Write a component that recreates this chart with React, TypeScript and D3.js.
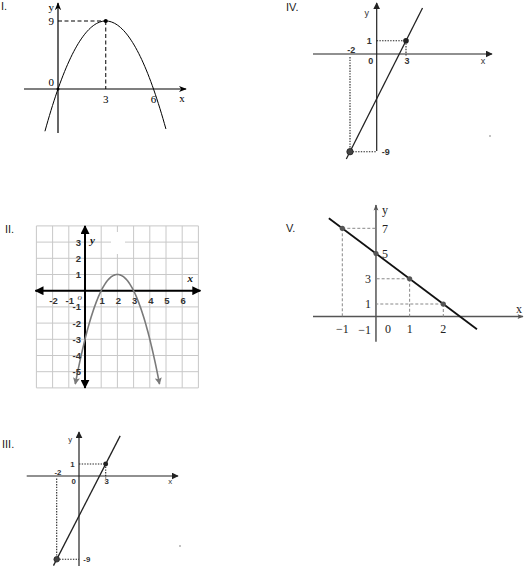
import React from 'react';
import * as d3 from 'd3';

const W = 525, H = 568;

// ---------- Panel I : y = -x^2 + 6x ----------
const quadI = [-1, 6, 0];
const xDomainI = [-0.82, 6.78];
const vertexI = [3, 9];
const xTicksI = [3, 6];
const yTicksI = [9];

// ---------- Panel II : y = -x^2 + 4x - 3 ----------
const quadII = [-1, 4, -3];
const xDomainII = [-0.6, 4.6];
const gridXII = [-3, -2, -1, 0, 1, 2, 3, 4, 5, 6, 7];
const gridYII = [-6, -5, -4, -3, -2, -1, 0, 1, 2, 3, 4];
const xTicksII = [-2, -1, 1, 2, 3, 4, 5, 6];
const yTicksII = [3, 2, 1, -1, -2, -3, -4, -5];

// ---------- Panels III & IV : line through (-2,-9) and (3,1) ----------
const pointsLin = [[-2, -9], [3, 1]];
const xTicksLin = [-2, 3];
const yTicksLin = [1, -9];

// ---------- Panel V : y = -2x + 5 ----------
const lineV = [-2, 5];
const xDomainV = [-1.4, 3.0];
const pointsV = [[-1, 7], [0, 5], [1, 3], [2, 1]];
const xTicksV = [-1, 1, 2];
const yTicksV = [7, 5, 3, 1, -1];

const sampleQuad = (q: number[], dom: number[], n = 80) =>
  d3.range(n + 1).map((i) => {
    const x = dom[0] + ((dom[1] - dom[0]) * i) / n;
    return [x, q[0] * x * x + q[1] * x + q[2]];
  });

const SERIF = '"Liberation Serif", "Times New Roman", serif';
const SANS = '"Liberation Sans", Arial, sans-serif';

function PanelI() {
  const x = d3.scaleLinear().domain([0, 6]).range([58, 153.5]);
  const y = d3.scaleLinear().domain([0, 9]).range([89, 21]);
  const line = d3.line<number[]>().x((d) => x(d[0])).y((d) => y(d[1]));
  const pts = sampleQuad(quadI, xDomainI);
  return (
    <g>
      <text x={1} y={10} fontFamily={SANS} fontSize={11} fill="#1a1a1a">I.</text>
      <line x1={24} x2={186} y1={y(0)} y2={y(0)} stroke="#000" strokeWidth={1.2} markerEnd="url(#arrI)" />
      <line x1={x(0)} x2={x(0)} y1={133} y2={3} stroke="#000" strokeWidth={1.2} markerEnd="url(#arrI)" />
      <path d={line(pts) || ''} fill="none" stroke="#000" strokeWidth={1} />
      <line x1={x(0)} x2={x(vertexI[0])} y1={y(vertexI[1])} y2={y(vertexI[1])} stroke="#000" strokeWidth={1} strokeDasharray="4,2.5" />
      <line x1={x(vertexI[0])} x2={x(vertexI[0])} y1={y(vertexI[1])} y2={y(0)} stroke="#000" strokeWidth={1} strokeDasharray="4,2.5" />
      <circle cx={x(vertexI[0])} cy={y(vertexI[1])} r={2} fill="#000" />
      <circle cx={x(0)} cy={y(0)} r={1.5} fill="#000" />
      {xTicksI.map((t) => (
        <text key={t} x={x(t)} y={y(0) + 14} textAnchor="middle" fontFamily={SERIF} fontSize={11}>{t}</text>
      ))}
      {yTicksI.map((t) => (
        <text key={t} x={x(0) - 4} y={y(t) + 4} textAnchor="end" fontFamily={SERIF} fontSize={11}>{t}</text>
      ))}
      <text x={x(0) - 4} y={y(0) - 3} textAnchor="end" fontFamily={SERIF} fontSize={11}>0</text>
      <text x={x(0) - 4} y={11} textAnchor="end" fontFamily={SERIF} fontSize={11}>y</text>
      <text x={182} y={y(0) + 13} textAnchor="middle" fontFamily={SERIF} fontSize={11}>x</text>
    </g>
  );
}

function PanelII() {
  const x = d3.scaleLinear().domain([-3, 7]).range([36.4, 198.4]);
  const y = d3.scaleLinear().domain([-6, 4]).range([387.9, 225.9]);
  const line = d3.line<number[]>().x((d) => x(d[0])).y((d) => y(d[1]));
  const pts = sampleQuad(quadII, xDomainII);
  return (
    <g>
      <text x={5} y={233} fontFamily={SANS} fontSize={11} fill="#1a1a1a">II.</text>
      {gridXII.map((g) => (
        <line key={'gx' + g} x1={x(g)} x2={x(g)} y1={y(4)} y2={y(-6)} stroke="#c8c8c8" strokeWidth={1} />
      ))}
      {gridYII.map((g) => (
        <line key={'gy' + g} x1={x(-3)} x2={x(7)} y1={y(g)} y2={y(g)} stroke="#c8c8c8" strokeWidth={1} />
      ))}
      <rect x={111} y={232} width={14} height={22} fill="#fff" />
      <line x1={x(-3) - 1} x2={x(7) + 2} y1={y(0)} y2={y(0)} stroke="#000" strokeWidth={2} markerStart="url(#arrII)" markerEnd="url(#arrII)" />
      <line x1={x(0)} x2={x(0)} y1={y(-6)} y2={y(4)} stroke="#000" strokeWidth={2} markerStart="url(#arrII)" markerEnd="url(#arrII)" />
      <path d={line(pts) || ''} fill="none" stroke="#7a7a7a" strokeWidth={1.6} markerStart="url(#arrGray)" markerEnd="url(#arrGray)" />
      {xTicksII.map((t) => (
        <text key={'tx' + t} x={x(t) + 1} y={y(0) + 13} textAnchor="middle" fontFamily={SANS} fontSize={9.5} fontWeight={600} fill="#333">{t}</text>
      ))}
      {yTicksII.map((t) => (
        <text key={'ty' + t} x={x(0) - 4} y={y(t) + 3.5} textAnchor="end" fontFamily={SANS} fontSize={9.5} fontWeight={600} fill="#333">{t}</text>
      ))}
      <text x={x(0) - 3} y={y(0) + 9} textAnchor="end" fontFamily={SERIF} fontStyle="italic" fontSize={9} fill="#333">o</text>
      <text x={x(0) + 5} y={y(3) + 2} fontFamily={SERIF} fontStyle="italic" fontWeight="bold" fontSize={11} fill="#111">y</text>
      <text x={x(6.5)} y={y(0) - 9} textAnchor="middle" fontFamily={SERIF} fontStyle="italic" fontWeight="bold" fontSize={11} fill="#111">x</text>
    </g>
  );
}

function LinPanel({ xr, yr, axX, axY, k, label, labelPos, speck }: any) {
  const x = d3.scaleLinear().domain([-2, 0, 3]).range(xr);
  const y = d3.scaleLinear().domain([-9, 0, 1]).range(yr);
  const p1 = [x(pointsLin[0][0]), y(pointsLin[0][1])];
  const p2 = [x(pointsLin[1][0]), y(pointsLin[1][1])];
  const at = (t: number) => [p1[0] + t * (p2[0] - p1[0]), p1[1] + t * (p2[1] - p1[1])];
  const a = at(-0.066), b = at(1.295);
  const fs = 9 * k;
  const x0 = x(0), y0 = y(0);
  const dot = { stroke: '#222', strokeWidth: 1.1, strokeDasharray: '1.4,1.3' };
  return (
    <g>
      <text x={labelPos[0]} y={labelPos[1]} fontFamily={SANS} fontSize={11} fill="#1a1a1a">{label}</text>
      <line x1={axX[0]} x2={axX[1]} y1={y0} y2={y0} stroke="#222" strokeWidth={1.2} markerEnd="url(#arrLin)" />
      <line x1={x0} x2={x0} y1={axY[0]} y2={axY[1]} stroke="#222" strokeWidth={1.2} markerEnd="url(#arrLin)" />
      <line x1={x0} x2={p2[0]} y1={p2[1]} y2={p2[1]} {...dot} />
      <line x1={p2[0]} x2={p2[0]} y1={p2[1]} y2={y0 + 3 * k} {...dot} />
      <line x1={p1[0]} x2={x0} y1={p1[1]} y2={p1[1]} {...dot} />
      <line x1={p1[0]} x2={p1[0]} y1={y0 + 3 * k} y2={p1[1]} {...dot} />
      <line x1={a[0]} y1={a[1]} x2={b[0]} y2={b[1]} stroke="#222" strokeWidth={1.3} />
      <circle cx={p1[0]} cy={p1[1]} r={3.2 * k} fill="#444" stroke="#222" strokeWidth={0.8} />
      <circle cx={p2[0]} cy={p2[1]} r={2.8 * k} fill="#222" />
      <text x={x0 - 10 * k} y={y(1) - 25 * k} textAnchor="middle" fontFamily={SANS} fontSize={fs} fill="#333">y</text>
      <text x={x0 - 5 * k} y={y(yTicksLin[0]) + 3.3 * k} textAnchor="end" fontFamily={SANS} fontSize={fs} fontWeight={600} fill="#333">{yTicksLin[0]}</text>
      <text x={x0 + 5 * k} y={y(yTicksLin[1]) + 3.3 * k} textAnchor="start" fontFamily={SANS} fontSize={fs} fontWeight={600} fill="#333">{'-' + Math.abs(yTicksLin[1])}</text>
      <text x={x(xTicksLin[0]) + 1.3} y={y0 - 1.5 * k} textAnchor="middle" fontFamily={SANS} fontSize={fs} fontWeight={600} fill="#333">{'-' + Math.abs(xTicksLin[0])}</text>
      <text x={x(xTicksLin[1]) + 1} y={y0 + 9.5 * k} textAnchor="middle" fontFamily={SANS} fontSize={fs} fontWeight={600} fill="#333">{xTicksLin[1]}</text>
      <text x={x0 - 6 * k} y={y0 + 9.5 * k} textAnchor="middle" fontFamily={SANS} fontSize={fs} fontWeight={600} fill="#333">0</text>
      <text x={axX[1] - 9 * k} y={y0 + 9.5 * k} textAnchor="middle" fontFamily={SANS} fontSize={fs} fill="#333">x</text>
      <circle cx={speck[0]} cy={speck[1]} r={0.8} fill="#777" />
    </g>
  );
}

function PanelV() {
  const x = d3.scaleLinear().domain([-1, 2]).range([342.3, 443.3]);
  const y = d3.scaleLinear().domain([1, 7]).range([304, 228.3]);
  const x0 = x(0), y0 = y(0);
  const lineGen = d3.line<number[]>().x((d) => x(d[0])).y((d) => y(d[1]));
  const segs = xDomainV.map((v) => [v, lineV[0] * v + lineV[1]]);
  const fs = 12;
  const gray = '#555';
  return (
    <g>
      <text x={286} y={232} fontFamily={SANS} fontSize={11} fill="#1a1a1a">V.</text>
      <line x1={313} x2={523} y1={y0} y2={y0} stroke={gray} strokeWidth={1.5} markerEnd="url(#arrV)" />
      <line x1={x0} x2={x0} y1={341.7} y2={205} stroke={gray} strokeWidth={1.5} markerEnd="url(#arrV)" />
      {pointsV.filter((p) => p[0] !== 0).map((p, i) => (
        <g key={'d' + i}>
          <line x1={x(p[0])} x2={x0} y1={y(p[1])} y2={y(p[1])} stroke="#888" strokeWidth={1} strokeDasharray="3,2" />
          <line x1={x(p[0])} x2={x(p[0])} y1={y(p[1])} y2={y0} stroke="#888" strokeWidth={1} strokeDasharray="3,2" />
        </g>
      ))}
      <path d={lineGen(segs) || ''} stroke="#111" strokeWidth={1.8} fill="none" />
      {pointsV.map((p, i) => (
        <circle key={'p' + i} cx={x(p[0])} cy={y(p[1])} r={2.6} fill="#555" />
      ))}
      {xTicksV.map((t) => (
        <text key={'vx' + t} x={x(t)} y={y0 + 16} textAnchor="middle" fontFamily={SERIF} fontSize={fs} fill="#222">{t < 0 ? '\u2212' + Math.abs(t) : t}</text>
      ))}
      {yTicksV.map((t) => (
        <text key={'vy' + t} x={t >= 5 ? x0 + 6 : x0 - 5} y={y(t) + 4.3} textAnchor={t >= 5 ? 'start' : 'end'} fontFamily={SERIF} fontSize={fs} fill="#222">{t < 0 ? '\u2212' + Math.abs(t) : t}</text>
      ))}
      <text x={x0 + 12} y={y0 + 16} textAnchor="middle" fontFamily={SERIF} fontSize={fs} fill="#222">0</text>
      <text x={x0 + 6} y={214} fontFamily={SERIF} fontSize={fs} fill="#222">y</text>
      <text x={519} y={313} textAnchor="middle" fontFamily={SERIF} fontSize={fs} fill="#222">x</text>
    </g>
  );
}

export default function App() {
  return (
    <svg width={W} height={H} style={{ position: 'absolute', left: 0, top: 0, background: '#fff' }}>
      <defs>
        <marker id="arrI" viewBox="0 0 10 10" refX={9} refY={5} markerWidth={8} markerHeight={8} markerUnits="userSpaceOnUse" orient="auto">
          <path d="M0,1 L10,5 L0,9 L3,5 Z" fill="#000" />
        </marker>
        <marker id="arrII" viewBox="0 0 10 10" refX={9} refY={5} markerWidth={9} markerHeight={9} markerUnits="userSpaceOnUse" orient="auto-start-reverse">
          <path d="M0,0 L10,5 L0,10 Z" fill="#000" />
        </marker>
        <marker id="arrGray" viewBox="0 0 10 10" refX={9} refY={5} markerWidth={8} markerHeight={7} markerUnits="userSpaceOnUse" orient="auto-start-reverse">
          <path d="M0,0 L10,5 L0,10 L2,5 Z" fill="#7a7a7a" />
        </marker>
        <marker id="arrLin" viewBox="0 0 10 10" refX={9} refY={5} markerWidth={7} markerHeight={7} markerUnits="userSpaceOnUse" orient="auto">
          <path d="M0,0 L10,5 L0,10 Z" fill="#222" />
        </marker>
        <marker id="arrV" viewBox="0 0 10 10" refX={9} refY={5} markerWidth={7} markerHeight={6} markerUnits="userSpaceOnUse" orient="auto">
          <path d="M0,1 L10,5 L0,9 L2,5 Z" fill="#555" />
        </marker>
      </defs>
      <rect x={0} y={0} width={W} height={H} fill="#fff" />
      <PanelI />
      <LinPanel xr={[350, 376.7, 406]} yr={[151.7, 54, 40.7]} axX={[313, 492]} axY={[151, 3]} k={1} label="IV." labelPos={[286, 11]} speck={[490, 136]} />
      <PanelII />
      <PanelV />
      <LinPanel xr={[56.7, 79, 105.7]} yr={[559.3, 476, 464]} axX={[26.7, 178]} axY={[566, 432]} k={0.87} label="III." labelPos={[2, 448]} speck={[180, 546]} />
    </svg>
  );
}
